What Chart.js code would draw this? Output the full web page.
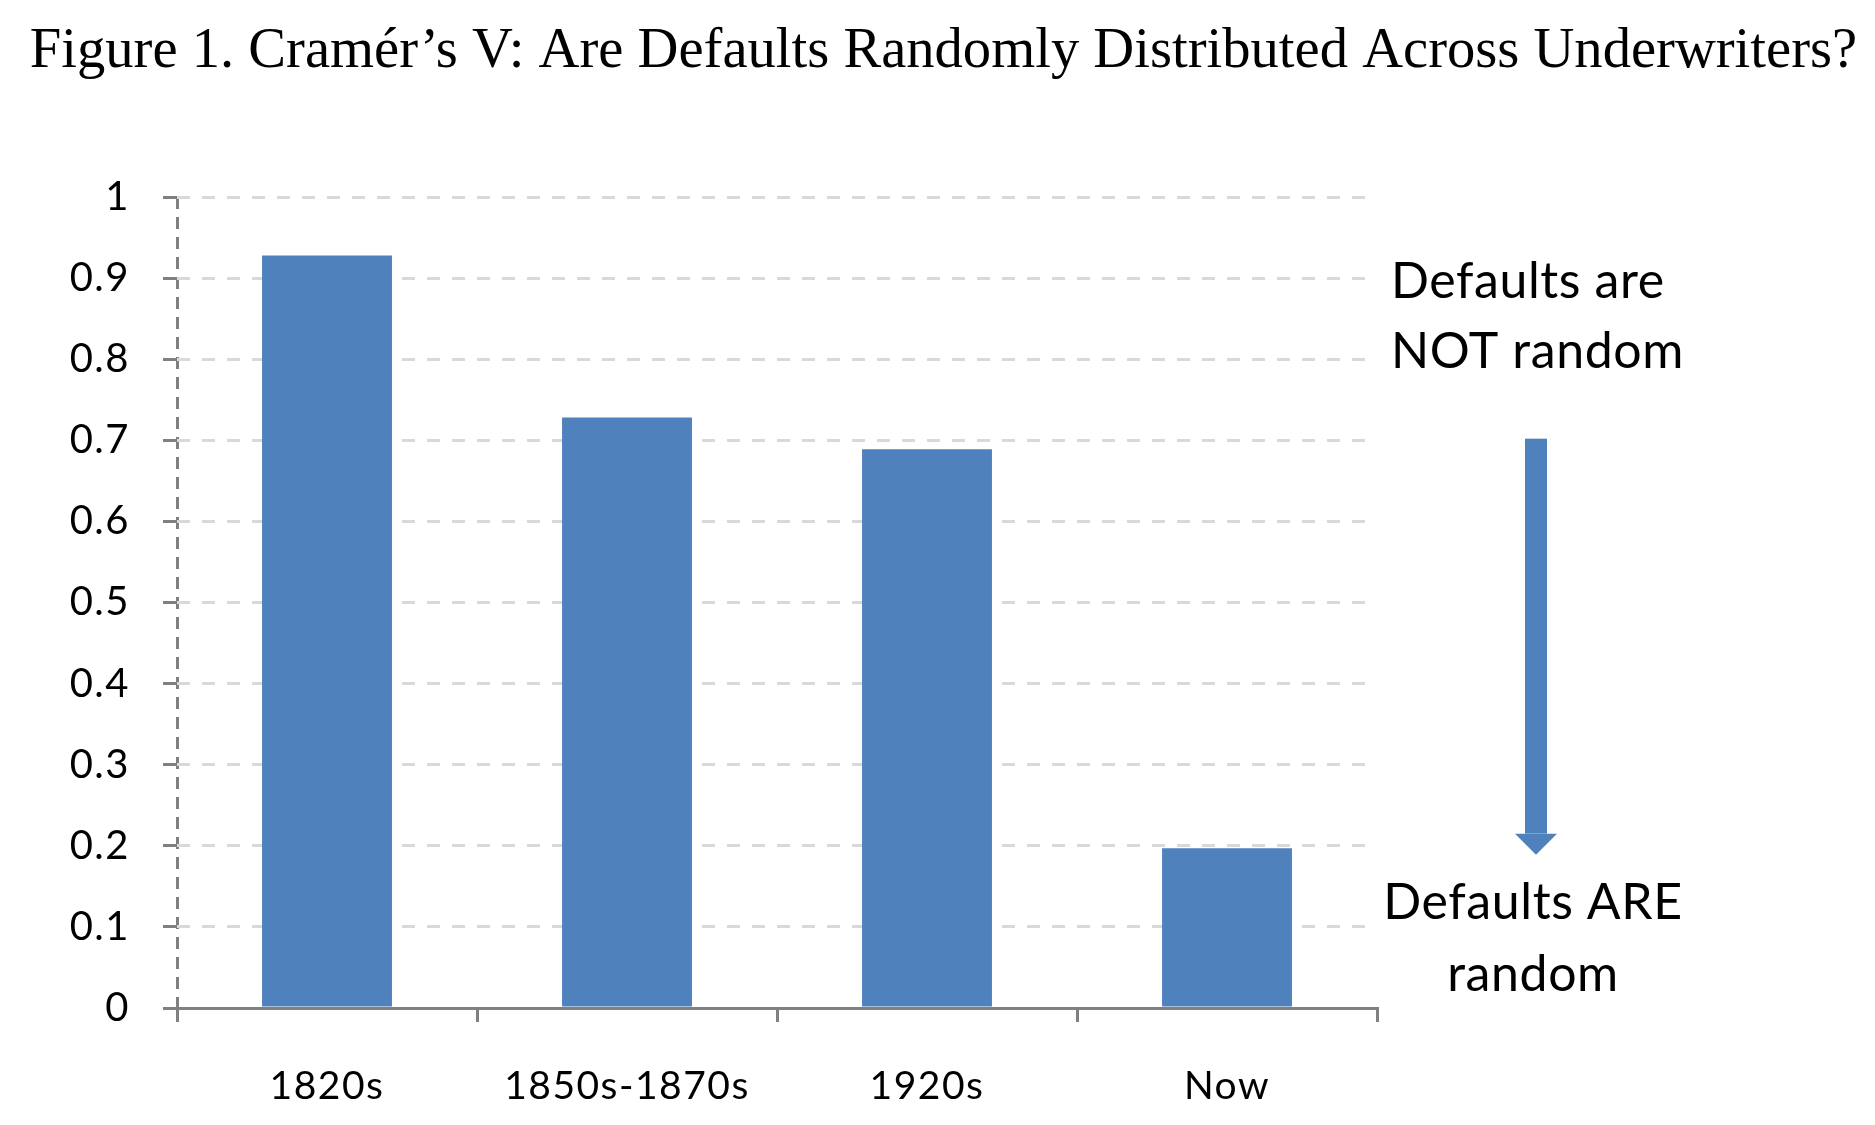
<!DOCTYPE html>
<html>
<head>
<meta charset="utf-8">
<script src="https://cdn.jsdelivr.net/npm/chart.js@4/dist/chart.umd.min.js"></script>
<style>
  html, body { margin: 0; padding: 0; background: #ffffff; }
  #wrap { width: 1875px; height: 1125px; position: relative; }
</style>
</head>
<body>
<div id="wrap"><canvas id="c" width="1875" height="1125" style="width:1875px;height:1125px"></canvas></div>
<script>
// ---- data ----
const titleText = "Figure 1. Cramér\u2019s V: Are Defaults Randomly Distributed Across Underwriters?";
const categories = ["1820s", "1850s-1870s", "1920s", "Now"];
const cramersV = [0.928, 0.728, 0.689, 0.197];
const yTickLabels = ["0", "0.1", "0.2", "0.3", "0.4", "0.5", "0.6", "0.7", "0.8", "0.9", "1"];
const topNote = ["Defaults are", "NOT random"];
const bottomNote = ["Defaults ARE", "random"];

// ---- styles ----
const BAR_BLUE = "#4F81BD";
const AXIS_GREY = "#808080";
const GRID_GREY = "#D9D9D9";

const notesPlugin = {
  id: "notes",
  beforeDraw(chart) {
    chart.ctx.letterSpacing = "1.5px";
  },
  afterDraw(chart) {
    const ctx = chart.ctx;
    const a = chart.chartArea;
    const y = chart.scales.y;
    ctx.save();
    // title
    ctx.letterSpacing = "0px";
    ctx.fillStyle = "#000";
    ctx.font = '56.6px "Liberation Serif"';
    ctx.textAlign = "center";
    ctx.textBaseline = "alphabetic";
    ctx.fillText(titleText, chart.width / 2 + 6, 67);

    // annotation texts
    ctx.letterSpacing = "0.6px";
    ctx.font = '50px Lato';
    ctx.textAlign = "left";
    ctx.fillText(topNote[0], a.right + 14, y.getPixelForValue(0.875));
    ctx.fillText(topNote[1], a.right + 14, y.getPixelForValue(0.789));
    const cx = a.right + 156;
    ctx.textAlign = "center";
    ctx.fillText(bottomNote[0], cx, y.getPixelForValue(0.110));
    ctx.fillText(bottomNote[1], cx, y.getPixelForValue(0.021));

    // arrow
    const ax = a.right + 159;
    const yTop = y.getPixelForValue(0.702);
    const yBase = y.getPixelForValue(0.215);
    const yTip = y.getPixelForValue(0.189);
    ctx.fillStyle = BAR_BLUE;
    ctx.fillRect(ax - 11, yTop, 22, yBase - yTop);
    ctx.beginPath();
    ctx.moveTo(ax - 21, yBase);
    ctx.lineTo(ax + 21, yBase);
    ctx.lineTo(ax, yTip);
    ctx.closePath();
    ctx.fill();
    ctx.restore();
  }
};

new Chart(document.getElementById("c"), {
  type: "bar",
  data: {
    labels: categories,
    datasets: [{
      data: cramersV,
      backgroundColor: BAR_BLUE,
      borderWidth: 0,
      barPercentage: 0.433,
      categoryPercentage: 1.0
    }]
  },
  options: {
    responsive: false,
    devicePixelRatio: 1,
    animation: false,
    layout: { padding: { top: 197, right: 498, bottom: 0, left: 0 } },
    plugins: {
      legend: { display: false },
      tooltip: { enabled: false },
      title: { display: false }
    },
    scales: {
      x: {
        offset: true,
        grid: {
          display: true,
          offset: true,
          drawOnChartArea: true,
          color: (c) => (c.index === 0 ? AXIS_GREY : "rgba(0,0,0,0)"),
          lineWidth: 3,
          drawTicks: true,
          tickLength: 14,
          tickColor: AXIS_GREY,
          tickWidth: 3,
          tickBorderDash: []
        },
        border: { display: true, color: AXIS_GREY, width: 3, dash: [12, 8] },
        ticks: {
          color: "#000",
          padding: 41,
          font: { family: "Lato", size: 39 },
          maxRotation: 0
        },
        afterFit: (s) => { s.height = 117; }
      },
      y: {
        min: 0,
        max: 1,
        ticks: {
          stepSize: 0.1,
          padding: 33,
          color: "#000",
          font: { family: "Lato", size: 40 },
          callback: (v, i) => yTickLabels[i]
        },
        grid: {
          color: (c) => (c.tick && c.tick.value === 0 ? "rgba(0,0,0,0)" : GRID_GREY),
          lineWidth: 3,
          drawTicks: true,
          tickLength: 14,
          tickColor: AXIS_GREY,
          tickWidth: 3,
          tickBorderDash: []
        },
        border: { display: false, dash: [13, 12] },
        afterFit: (s) => { s.width = 177; }
      }
    }
  },
  plugins: [notesPlugin]
});
</script>
</body>
</html>
